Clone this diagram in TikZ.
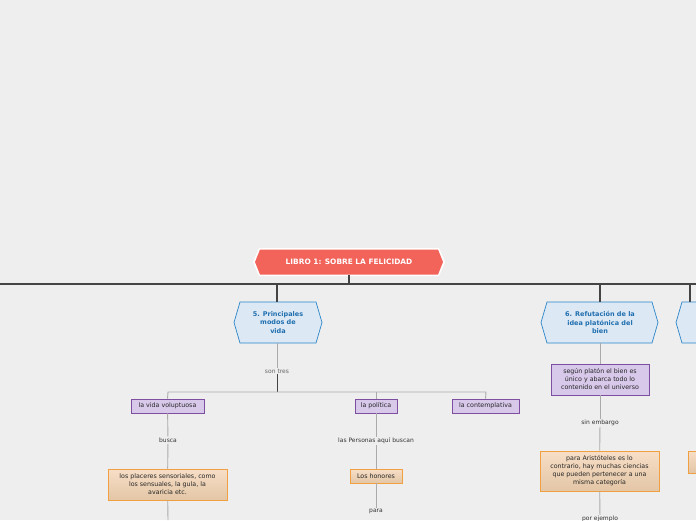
\documentclass[tikz,border=0pt]{standalone}
\usepackage{fontspec}
\setmainfont{DejaVu Sans}
\definecolor{bg}{HTML}{EEEEEE}
\definecolor{rootc}{HTML}{F2635A}
\definecolor{blf}{HTML}{DDE8F5}
\definecolor{bld}{HTML}{2A85C8}
\definecolor{blt}{HTML}{1F6FAF}
\definecolor{puf}{HTML}{D8C8EA}
\definecolor{pud}{HTML}{7E4FA0}
\definecolor{ort}{HTML}{F7DEC6}
\definecolor{orb}{HTML}{E3C6A6}
\definecolor{ord}{HTML}{F0A040}
\definecolor{dk}{HTML}{444444}
\definecolor{lg}{HTML}{AAAAAA}
\begin{document}
\begin{tikzpicture}[x=1pt,y=-1pt,
  pbox/.style={draw=pud,fill=puf,line width=0.7pt,font=\fontsize{6.3}{8}\selectfont,text=black!85,align=center,inner sep=0pt},
  obox/.style={draw=ord,top color=ort,bottom color=orb,line width=0.7pt,font=\fontsize{6.3}{8}\selectfont,text=black!85,align=center,inner sep=0pt},
  lbl/.style={font=\fontsize{6}{7}\selectfont,text=black!80,inner sep=1pt},
  hext/.style={text=blt,font=\bfseries\fontsize{6.5}{8.5}\selectfont,align=center},
  thin/.style={draw=lg,line width=0.9pt},
  thick/.style={draw=dk,line width=1.2pt}]
\fill[bg] (0,0) rectangle (696,520);
\useasboundingbox (0,0) rectangle (696,520);
% root
\fill[white] (253,262)--(259,248)--(439,248)--(445,262)--(439,276)--(259,276)--cycle;
\fill[rootc] (255,262)--(260,249.5)--(438,249.5)--(443,262)--(438,274.5)--(260,274.5)--cycle;
\node[text=white,font=\bfseries\fontsize{7.4}{8}\selectfont] (root) at (349,262) {LIBRO 1: SOBRE LA FELICIDAD};
\coordinate (rb) at (349,275);
\coordinate (rj) at (349,284);
\coordinate (hl) at (0,284);
\coordinate (hr) at (696,284);
\draw[thick] (rb)--(rj);
\draw[thick] (hl)--(hr);
% level 1
\draw[fill=blf,draw=bld,line width=0.7pt] (234,322.5)--(240,302)--(316,302)--(322,322.5)--(316,343)--(240,343)--cycle;
\node[hext] (n5) at (278,322.5) {5. Principales\\modos de\\vida};
\draw[fill=blf,draw=bld,line width=0.7pt] (541,322.5)--(547,302)--(652,302)--(658,322.5)--(652,343)--(547,343)--cycle;
\node[hext] (n6) at (600,322.5) {6. Refutación de la\\idea platónica del\\bien};
\draw[fill=blf,draw=bld,line width=0.7pt] (698,302)--(682,302)--(676,322.5)--(682,343)--(698,343);
\coordinate (j5) at (277,284);
\coordinate (t5) at (277,302);
\coordinate (j6) at (600,284);
\coordinate (t6) at (600,302);
\coordinate (j7) at (690,284);
\coordinate (t7) at (690,302);
\draw[thick] (j5)--(t5);
\draw[thick] (j6)--(t6);
\draw[thick] (j7)--(t7);
% branch 5
\node[lbl,text=black!60] (st) at (277,371) {son tres};
\draw[thin] (277,343)--(st);
\coordinate (sj) at (277,392);
\draw[draw=dk,line width=0.9pt] (st)--(sj);
\node[pbox,minimum width=73pt,minimum height=14pt] (vv) at (167.5,406) {la vida voluptuosa};
\node[pbox,minimum width=42pt,minimum height=14pt] (po) at (376,406) {la política};
\node[pbox,minimum width=67pt,minimum height=14pt] (co) at (485.5,406) {la contemplativa};
\draw[thin] (vv.north)--(168,392)--(486,392)--(co.north);
\draw[thin] (376,392)--(po.north);
\node[lbl] (bu) at (168,440) {busca};
\draw[thin] (vv)--(bu);
\node[obox,minimum width=119pt,minimum height=31pt] (pl) at (167.5,484.5) {los placeres sensoriales, como\\los sensuales, la gula, la\\avaricia etc.};
\draw[thin] (bu)--(pl);
\coordinate (plb) at (168,520);
\draw[thin] (pl)--(plb);
\node[lbl] (pb) at (376,441) {las Personas aquí buscan};
\draw[thin] (po)--(pb);
\node[obox,minimum width=52pt,minimum height=14pt] (ho) at (376,476) {Los honores};
\draw[thin] (pb)--(ho);
\node[lbl] (pa) at (376,511) {para};
\draw[thin] (ho)--(pa);
% branch 6
\node[pbox,minimum width=98pt,minimum height=31pt] (sp) at (600,379.5) {según platón el bien es\\único y abarca todo lo\\contenido en el universo};
\draw[thin] (600,343)--(sp);
\node[lbl] (se) at (600,423) {sin embargo};
\draw[thin] (sp)--(se);
\node[obox,minimum width=119pt,minimum height=40pt] (ar) at (599.5,471) {para Aristóteles es lo\\contrario, hay muchas ciencias\\que pueden pertenecer a una\\misma categoría};
\draw[thin] (se)--(ar);
\node[lbl] (pe) at (600,519) {por ejemplo};
\draw[thin] (ar)--(pe);
% partial right
\draw[draw=ord,top color=ort,bottom color=orb,line width=0.7pt] (700,451)--(688,451)--(688,473)--(700,473);
\end{tikzpicture}
\end{document}
